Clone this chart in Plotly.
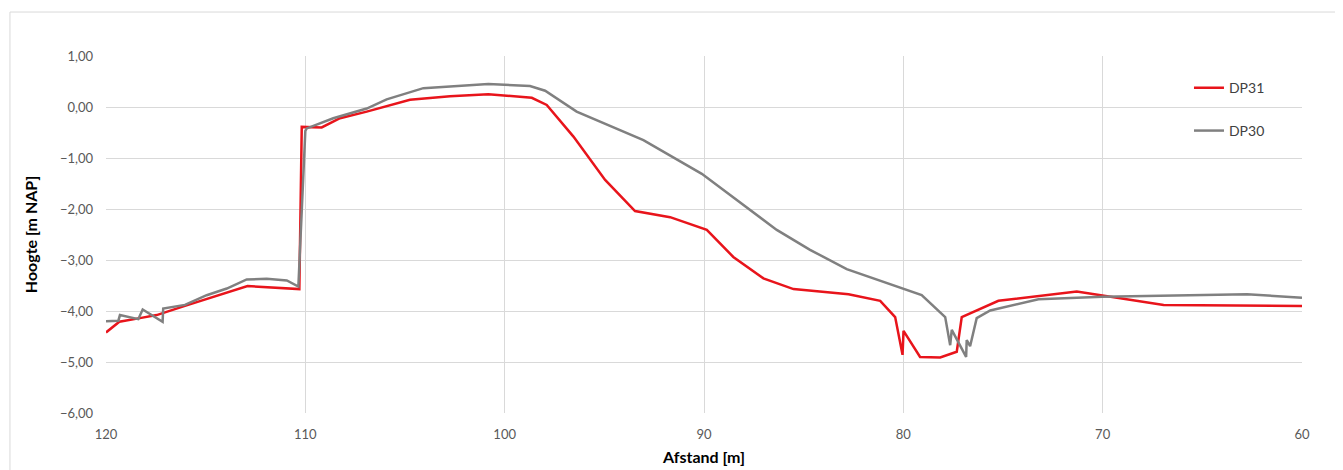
import plotly.graph_objects as go

# DP31 (red)
dp31_x = [120, 119.33, 118.3, 117.46, 116.04, 112.9, 110.3, 110.18, 109.18, 108.26, 106.92, 105.75, 104.75,
          102.74, 100.82, 98.64, 97.89, 96.55, 94.96, 93.46, 91.70, 89.86, 88.53, 87.02, 85.51, 82.75,
          81.16, 80.41, 80.04, 79.99, 79.16, 78.15, 77.32, 77.07, 75.23, 71.3, 66.94, 60]
dp31_y = [-4.42, -4.21, -4.14, -4.08, -3.90, -3.51, -3.57, -0.39, -0.40, -0.22, -0.09, 0.04, 0.14,
          0.21, 0.25, 0.18, 0.04, -0.58, -1.43, -2.04, -2.16, -2.41, -2.94, -3.36, -3.57, -3.67,
          -3.80, -4.12, -4.86, -4.39, -4.90, -4.91, -4.80, -4.12, -3.80, -3.62, -3.88, -3.90]

# DP30 (grey)
dp30_x = [120, 119.38, 119.3, 118.38, 118.16, 117.16, 117.13, 116.04, 114.95, 113.94, 112.94, 111.94,
          110.93, 110.35, 110.0, 109.93, 108.6, 106.92, 105.92, 104.08, 100.82, 98.73, 97.97, 96.39,
          93.04, 90.11, 86.35, 84.68, 82.84, 79.08, 77.9, 77.65, 77.57, 76.85, 76.82, 76.65, 76.32,
          75.64, 73.22, 70.0, 62.76, 60]
dp30_y = [-4.20, -4.19, -4.08, -4.16, -3.97, -4.21, -3.95, -3.88, -3.69, -3.56, -3.38, -3.37,
          -3.40, -3.52, -0.47, -0.42, -0.22, -0.03, 0.15, 0.37, 0.45, 0.41, 0.32, -0.09,
          -0.65, -1.31, -2.41, -2.80, -3.18, -3.69, -4.12, -4.67, -4.37, -4.90, -4.57, -4.69, -4.14,
          -3.99, -3.77, -3.72, -3.67, -3.74]

x_ticks = [120, 110, 100, 90, 80, 70, 60]
y_ticks = [1, 0, -1, -2, -3, -4, -5, -6]

FONT = "Lato, 'Open Sans', sans-serif"

fig = go.Figure()
fig.add_trace(go.Scatter(x=dp31_x, y=dp31_y, mode="lines", name="DP31", showlegend=True,
                         line=dict(color="#e8141b", width=2.5), legend="legend"))
fig.add_trace(go.Scatter(x=dp30_x, y=dp30_y, mode="lines", name="DP30", showlegend=True,
                         line=dict(color="#808080", width=2.5), legend="legend2"))

fig.update_layout(
    width=1335, height=462,
    margin=dict(l=98, r=41, t=48, b=57, autoexpand=False),
    paper_bgcolor="white", plot_bgcolor="white",
    separators=",.",
    showlegend=True,
    font=dict(family=FONT, size=13, color="#595959"),
    xaxis=dict(range=[120, 60], tickvals=x_ticks, showgrid=True, gridcolor="#d9d9d9",
               gridwidth=1, zeroline=False, showline=False, ticks="", automargin=False,
               ticklabelstandoff=12, tickfont=dict(size=13, color="#595959"),
               title=dict(text="<b>Afstand [m]</b>", standoff=10,
                          font=dict(size=16, color="#000000"))),
    yaxis=dict(range=[-6, 1], tickvals=y_ticks, tickformat=".2f", showgrid=True,
               gridcolor="#d9d9d9", gridwidth=1, zeroline=False, showline=False, ticks="",
               automargin=False,
               ticklabelstandoff=12, tickfont=dict(size=13, color="#595959"),
               title=dict(text="<b>Hoogte [m NAP]</b>", standoff=18,
                          font=dict(size=16, color="#000000"))),
    legend=dict(x=0.9055, y=0.91, xanchor="left", yanchor="middle", bgcolor="rgba(0,0,0,0)",
                font=dict(size=14, color="#404040")),
    legend2=dict(x=0.9055, y=0.79, xanchor="left", yanchor="middle", bgcolor="rgba(0,0,0,0)",
                 font=dict(size=14, color="#404040")),
    shapes=[dict(type="rect", xref="paper", yref="paper", x0=-0.0803, x1=1.0326,
                 y0=-0.2, y1=1.1232, line=dict(color="#d9d9d9", width=1), layer="below")],
)

fig.write_html("out.html")
